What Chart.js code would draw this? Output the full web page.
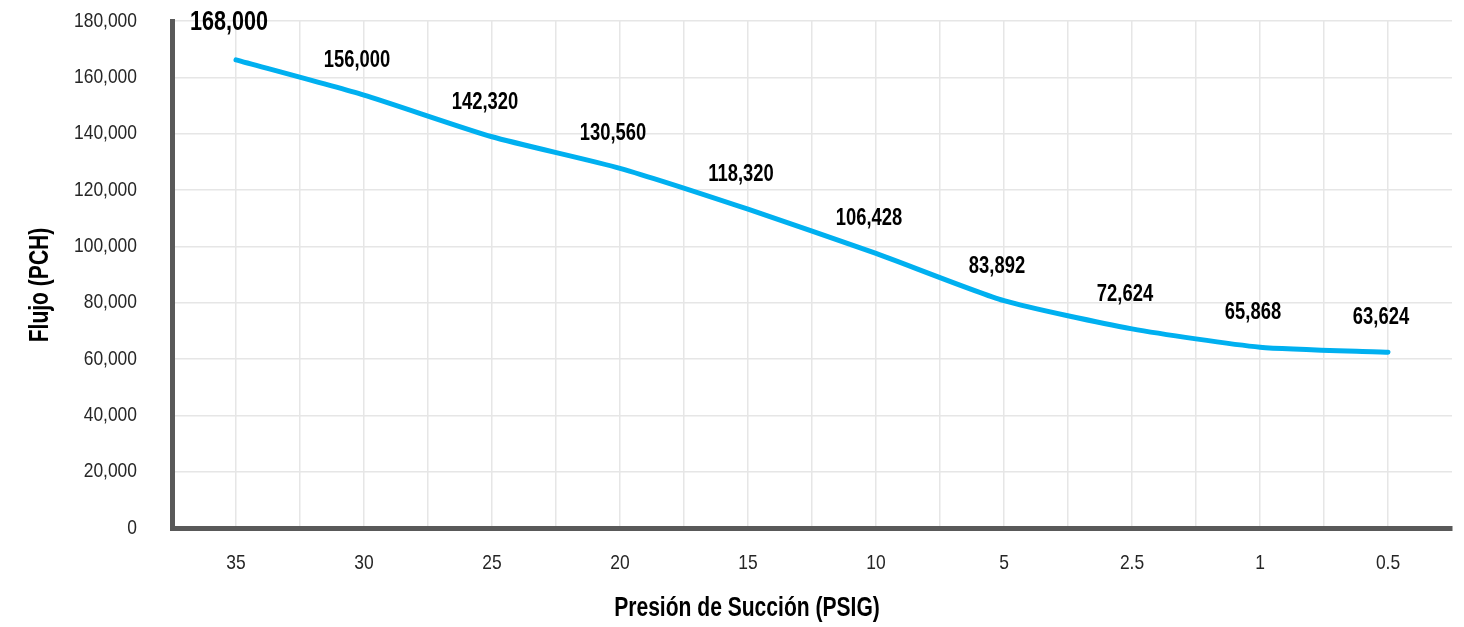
<!DOCTYPE html>
<html lang="es">
<head>
    <meta charset="UTF-8">
    <title>Flujo vs Presión de Succión</title>
    <script src="https://cdn.jsdelivr.net/npm/chart.js"></script>
    <style>
        body {
            margin: 0;
            padding: 0;
            background-color: #ffffff;
        }
        .chart-box {
            position: relative;
            width: 1464px;
            height: 627px;
        }
    </style>
</head>
<body>
    <div class="chart-box">
        <canvas id="flujoChart"></canvas>
    </div>

    <script>
        // Datos
        const presion = ['35', '30', '25', '20', '15', '10', '5', '2.5', '1', '0.5'];
        const flujo = [166200, 153700, 138900, 127700, 113200, 97500, 80700, 70700, 64200, 62400];
        const etiquetas = ['168,000', '156,000', '142,320', '130,560', '118,320', '106,428', '83,892', '72,624', '65,868', '63,624'];
        const yTicks = [0, 20000, 40000, 60000, 80000, 100000, 120000, 140000, 160000, 180000];

        // Sin Arial Narrow instalada: Liberation Sans comprimida en horizontal
        const FONT = "'Liberation Sans', Arial, sans-serif";
        const axisColor = '#595959';
        const gridColor = '#e6e6e6';
        const tickColor = '#262626';

        function drawText(ctx, text, x, y, font, align, sx) {
            ctx.save();
            ctx.translate(x, y);
            ctx.scale(sx, 1);
            ctx.font = font;
            ctx.textAlign = align;
            ctx.textBaseline = 'middle';
            ctx.fillText(text, 0, 0);
            ctx.restore();
        }

        // Textos de ejes, etiquetas de datos y titulos
        const textosPlugin = {
            id: 'textos',
            afterDatasetsDraw(chart) {
                const ctx = chart.ctx;
                const xs = chart.scales.x;
                const ys = chart.scales.y;

                ctx.save();
                ctx.fillStyle = tickColor;
                yTicks.forEach(v => {
                    drawText(ctx, v.toLocaleString('en-US'), 137, ys.getPixelForValue(v), '21px ' + FONT, 'right', 0.83);
                });
                presion.forEach((p, i) => {
                    drawText(ctx, p, xs.getPixelForValue(i), 563, '21px ' + FONT, 'center', 0.83);
                });

                ctx.fillStyle = '#000000';
                const meta = chart.getDatasetMeta(0);
                meta.data.forEach((pt, i) => {
                    const size = i === 0 ? 27 : 23;
                    const dy = i === 0 ? 37 : 34.5;
                    drawText(ctx, etiquetas[i], pt.x - 7, pt.y - dy, 'bold ' + size + 'px ' + FONT, 'center', 0.8);
                });

                drawText(ctx, 'Presión de Succión (PSIG)', 747, 609, 'bold 27px ' + FONT, 'center', 0.78);

                ctx.translate(41, 285);
                ctx.rotate(-Math.PI / 2);
                drawText(ctx, 'Flujo (PCH)', 0, 0, 'bold 27px ' + FONT, 'center', 0.78);
                ctx.restore();
            }
        };

        const data = {
            datasets: [{
                label: 'Flujo (PCH)',
                data: flujo.map((v, i) => ({ x: i, y: v })),
                borderColor: '#00b0f0',
                backgroundColor: '#00b0f0',
                borderWidth: 5,
                borderCapStyle: 'round',
                pointRadius: 0,
                tension: 0.2,
                fill: false
            }]
        };

        const ctx = document.getElementById('flujoChart').getContext('2d');
        const flujoChart = new Chart(ctx, {
            type: 'line',
            data: data,
            plugins: [textosPlugin],
            options: {
                responsive: true,
                maintainAspectRatio: false,
                animation: false,
                layout: {
                    padding: { top: 21, right: 12, bottom: 0, left: 0 }
                },
                plugins: {
                    legend: { display: false },
                    tooltip: { enabled: false }
                },
                scales: {
                    x: {
                        type: 'linear',
                        min: -0.5,
                        max: 9.5,
                        afterFit(scale) { scale.height = 99; },
                        afterBuildTicks(scale) {
                            const t = [];
                            for (let k = 0; k <= 20; k++) t.push({ value: -0.5 + k * 0.5 });
                            scale.ticks = t;
                        },
                        ticks: { display: false },
                        grid: {
                            drawTicks: false,
                            color: (c) => (c.tick && c.tick.value === 9.5) ? 'rgba(0,0,0,0)' : gridColor,
                            lineWidth: 1.5
                        },
                        border: { display: true, color: axisColor, width: 5 }
                    },
                    y: {
                        min: 0,
                        max: 180000,
                        afterFit(scale) { scale.width = 172; },
                        afterBuildTicks(scale) {
                            scale.ticks = yTicks.map(v => ({ value: v }));
                        },
                        ticks: { display: false },
                        grid: {
                            drawTicks: false,
                            color: gridColor,
                            lineWidth: 1.5
                        },
                        border: { display: true, color: axisColor, width: 5 }
                    }
                }
            }
        });
    </script>
</body>
</html>
